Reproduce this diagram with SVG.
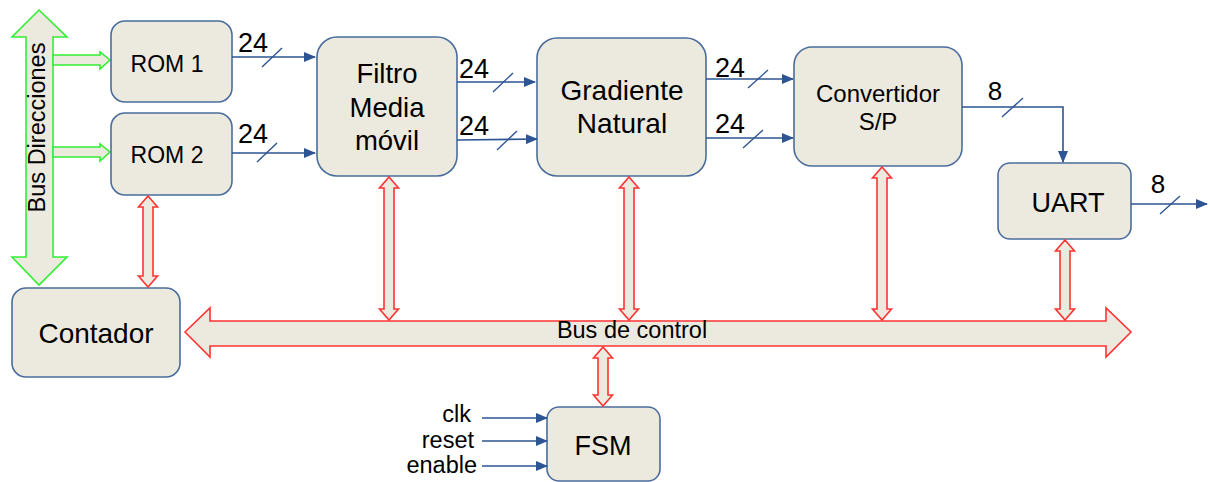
<svg xmlns="http://www.w3.org/2000/svg" width="1210" height="482" viewBox="0 0 1210 482">
  <style>
    .box { fill: #ECEADF; stroke: #4A6D9C; stroke-width: 1.6; }
    .lbl { font-family: "Liberation Sans", Arial, sans-serif; fill: #000; text-anchor: middle; }
    .end { text-anchor: end; }
    .wire { stroke: #2D5593; stroke-width: 1.6; fill: none; }
    .slash { stroke: #2D5593; stroke-width: 1.4; }
    .gbus { fill: #ECEADF; stroke: #33EE33; stroke-width: 1.6; stroke-linejoin: miter; }
    .rbus { fill: #ECEADF; stroke: #FF3333; stroke-width: 1.6; stroke-linejoin: miter; }
  </style>
  <defs>
    <marker id="ah" markerWidth="12" markerHeight="10" refX="11" refY="5" orient="auto" markerUnits="userSpaceOnUse">
      <path d="M0,0 L12,5 L0,10 Z" fill="#2D5593"/>
    </marker>
  </defs>
  <rect width="1210" height="482" fill="#fff"/>

  <!-- address bus -->
  <g id="bus-direcciones">
    <polygon class="gbus" points="39,10 67,37 53,37 53,257 67,257 39,285 12,257 26,257 26,37 12,37"/>
    <polygon class="gbus" points="53,55 100,55 100,52 110,60 100,69 100,65 53,65"/>
    <polygon class="gbus" points="53,147 100,147 100,144 110,152 100,161 100,157 53,157"/>
    <text class="lbl" font-size="23.5" transform="translate(45,127.5) rotate(-90)">Bus Direcciones</text>
  </g>

  <!-- control bus -->
  <g id="bus-control">
    <polygon class="rbus" points="185,332 210,308 210,321 1106,321 1106,308 1131,332 1106,357 1106,346 210,346 210,357"/>
    <text class="lbl" font-size="23.5" x="632" y="338">Bus de control</text>
  </g>

  <g id="rom1">
    <rect class="box" x="111" y="21" width="121" height="81" rx="14"/>
    <text class="lbl" font-size="23" x="167" y="72">ROM 1</text>
  </g>
  <g id="rom2">
    <rect class="box" x="111" y="113" width="121" height="82" rx="14"/>
    <text class="lbl" font-size="23" x="167" y="163">ROM 2</text>
  </g>
  <g id="filtro">
    <rect class="box" x="317" y="37" width="140" height="139" rx="20"/>
    <text class="lbl" font-size="27.5" x="387" y="83">Filtro</text>
    <text class="lbl" font-size="27.5" x="387" y="117">Media</text>
    <text class="lbl" font-size="27.5" x="387" y="150">móvil</text>
  </g>
  <g id="gradiente">
    <rect class="box" x="537" y="38" width="169" height="138" rx="20"/>
    <text class="lbl" font-size="28" x="622" y="100">Gradiente</text>
    <text class="lbl" font-size="28" x="622" y="133">Natural</text>
  </g>
  <g id="convertidor">
    <rect class="box" x="794" y="47" width="168" height="119" rx="18"/>
    <text class="lbl" font-size="24" x="878" y="102">Convertidor</text>
    <text class="lbl" font-size="24" x="878" y="130">S/P</text>
  </g>
  <g id="uart">
    <rect class="box" x="998" y="163" width="133" height="76" rx="12"/>
    <text class="lbl" font-size="27" x="1068" y="212">UART</text>
  </g>
  <g id="contador">
    <rect class="box" x="12" y="288" width="168" height="89" rx="14"/>
    <text class="lbl" font-size="28" x="96" y="343">Contador</text>
  </g>
  <g id="fsm">
    <rect class="box" x="547" y="407" width="113" height="74" rx="12"/>
    <text class="lbl" font-size="27" x="603" y="455">FSM</text>
  </g>

  <!-- connectors -->
  <g id="connectors">
    <!-- data paths -->
    <line class="wire" x1="232" y1="57" x2="315" y2="57" marker-end="url(#ah)"/>
    <line class="slash" x1="262" y1="67" x2="282" y2="48"/>
    <text class="lbl" font-size="27" x="253" y="52">24</text>

    <line class="wire" x1="232" y1="153" x2="315" y2="153" marker-end="url(#ah)"/>
    <line class="slash" x1="257" y1="162" x2="277" y2="143"/>
    <text class="lbl" font-size="27" x="253" y="143">24</text>

    <line class="wire" x1="457" y1="82" x2="535" y2="82" marker-end="url(#ah)"/>
    <line class="slash" x1="493" y1="92" x2="513" y2="73"/>
    <text class="lbl" font-size="27" x="474" y="78">24</text>

    <line class="wire" x1="457" y1="140" x2="537" y2="139" marker-end="url(#ah)"/>
    <line class="slash" x1="497" y1="150" x2="517" y2="131"/>
    <text class="lbl" font-size="27" x="474" y="135">24</text>

    <line class="wire" x1="706" y1="79" x2="793" y2="79" marker-end="url(#ah)"/>
    <line class="slash" x1="748" y1="88" x2="768" y2="70"/>
    <text class="lbl" font-size="27" x="730" y="77">24</text>

    <line class="wire" x1="706" y1="138" x2="793" y2="138" marker-end="url(#ah)"/>
    <line class="slash" x1="743" y1="148" x2="763" y2="130"/>
    <text class="lbl" font-size="27" x="730" y="133">24</text>

    <polyline class="wire" points="962,107 1063,107 1063,162" marker-end="url(#ah)"/>
    <line class="slash" x1="1002" y1="117" x2="1023" y2="98"/>
    <text class="lbl" font-size="26" x="995" y="100">8</text>

    <line class="wire" x1="1131" y1="204" x2="1207" y2="204" marker-end="url(#ah)"/>
    <line class="slash" x1="1160" y1="214" x2="1180" y2="196"/>
    <text class="lbl" font-size="26" x="1158" y="193">8</text>

    <!-- FSM inputs -->
    <line class="wire" x1="482" y1="418" x2="547" y2="418" marker-end="url(#ah)"/>
    <line class="wire" x1="482" y1="441" x2="547" y2="441" marker-end="url(#ah)"/>
    <line class="wire" x1="482" y1="466" x2="547" y2="466" marker-end="url(#ah)"/>
    <text class="lbl end" font-size="23.5" x="471" y="422">clk</text>
    <text class="lbl end" font-size="23.5" x="474" y="448">reset</text>
    <text class="lbl end" font-size="23.5" x="477" y="473">enable</text>

    <!-- control bus links -->
    <polygon class="rbus" points="148,196 157.5,207 153,207 153,276 157.5,276 148,287 138.5,276 143,276 143,207 138.5,207"/>
    <polygon class="rbus" points="389,177 398.5,188 394,188 394,309 398.5,309 389,320 379.5,309 384,309 384,188 379.5,188"/>
    <polygon class="rbus" points="629,177 638.5,188 634,188 634,309 638.5,309 629,320 619.5,309 624,309 624,188 619.5,188"/>
    <polygon class="rbus" points="882,167 891.5,178 887,178 887,309 891.5,309 882,320 872.5,309 877,309 877,178 872.5,178"/>
    <polygon class="rbus" points="1065,240 1074.5,251 1070,251 1070,309 1074.5,309 1065,320 1055.5,309 1060,309 1060,251 1055.5,251"/>
    <polygon class="rbus" points="603,347 612.5,358 608,358 608,395 612.5,395 603,406 593.5,395 598,395 598,358 593.5,358"/>
  </g>
</svg>
